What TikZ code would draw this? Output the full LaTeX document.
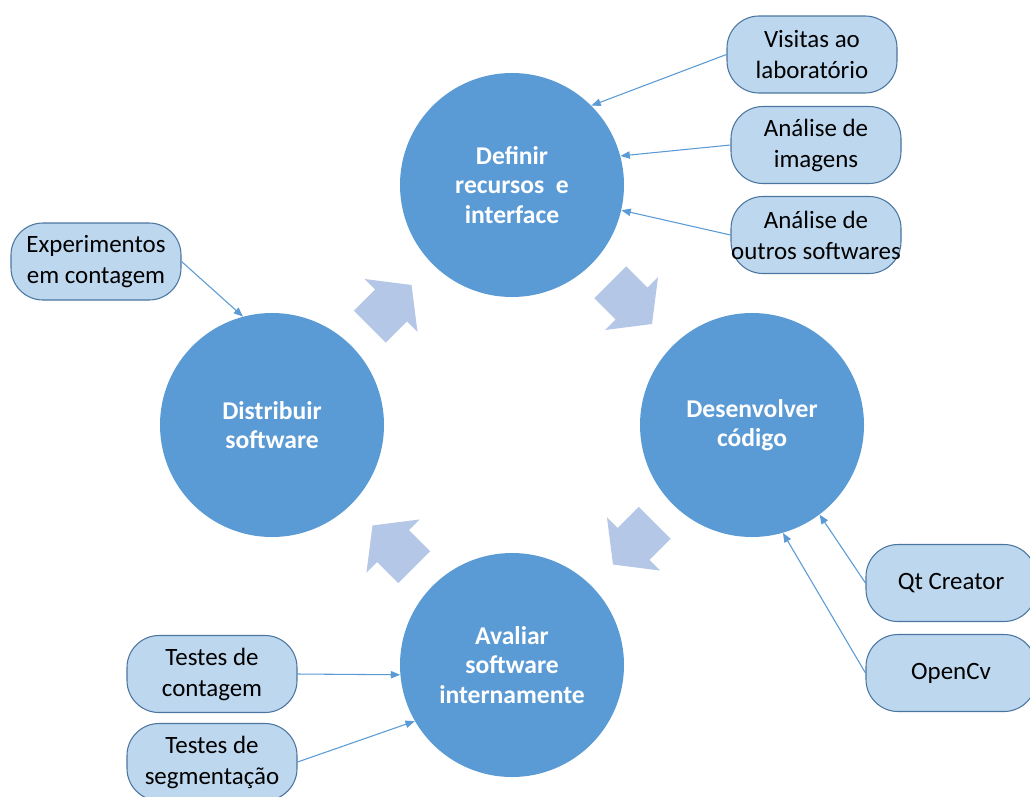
\documentclass[tikz,border=0pt]{standalone}
\usepackage{fontspec}
\setmainfont{Carlito}
\usetikzlibrary{arrows.meta}
\definecolor{circblue}{RGB}{91,155,213}
\definecolor{arrfill}{RGB}{180,199,231}
\definecolor{boxfill}{RGB}{189,215,238}
\definecolor{boxline}{RGB}{75,118,160}
\tikzset{
  x=0.75pt, y=-0.75pt,
  phase/.style={circle, fill=circblue, minimum size=168pt, inner sep=0pt,
    text=white, align=center, font=\fontsize{19.2}{22}\selectfont\bfseries},
  infobox/.style={rounded corners=24pt, draw=boxline, line width=0.8pt, fill=boxfill,
    minimum width=127.5pt, minimum height=57.75pt, inner sep=0pt, align=center,
    font=\fontsize{18.7}{23.25}\selectfont},
  conn/.style={draw=circblue, line width=0.8pt, -{Triangle[length=7pt,width=5.5pt]}},
  blockarrow/.style={fill=arrfill}
}
\newcommand\cyclearrow[3]{%
  \fill[blockarrow, shift={(#1,#2)}, rotate=#3]
    (-30,-22.5) -- (0,-22.5) -- (0,-37.5) -- (29,0) -- (0,37.5) -- (0,22.5) -- (-30,22.5) -- cycle;}
\begin{document}
\begin{tikzpicture}
\clip (0,0) rectangle (1030,796);
\fill[white] (0,0) rectangle (1030,796);
% phases
\node[phase] (def) at (512,185) {Definir\\recursos\ \ e\\interface};
\node[phase] (dev) at (752,425) {Desenvolver\\código};
\node[phase] (ava) at (512,665) {Avaliar\\software\\internamente};
\node[phase] (dis) at (272,425) {Distribuir\\software};
% cycle arrows
\cyclearrow{631.5}{303.5}{-45}
\cyclearrow{633.5}{544}{-135}
\cyclearrow{393}{546}{135}
\cyclearrow{391}{305.5}{45}
% info boxes
\node[infobox] (vis) at (812,54.5) {Visitas ao\\laboratório};
\node[infobox] (img) at (816,145) {Análise de\\imagens};
\node[infobox] (out) at (816,235) {Análise de\\outros softwares};
\node[infobox] (exp) at (96,261.5) {Experimentos\\em contagem};
\node[infobox] (qt) at (951,583) {Qt Creator};
\node[infobox] (ocv) at (951,673) {OpenCv};
\node[infobox] (tc) at (212,674) {Testes de\\contagem};
\node[infobox] (ts) at (212,762) {Testes de\\segmentação};
% connectors
\draw[conn] (vis.west) -- (def.45);
\draw[conn] (img.west) -- (def.15);
\draw[conn] (out.west) -- (def.-13);
\draw[conn] (exp.east) -- (dis.105);
\draw[conn] (qt.west) -- (dev.-53);
\draw[conn] (ocv.west) -- (dev.-74);
\draw[conn] (tc.east) -- (ava.185);
\draw[conn] (ts.east) -- (ava.210);
\end{tikzpicture}
\end{document}
